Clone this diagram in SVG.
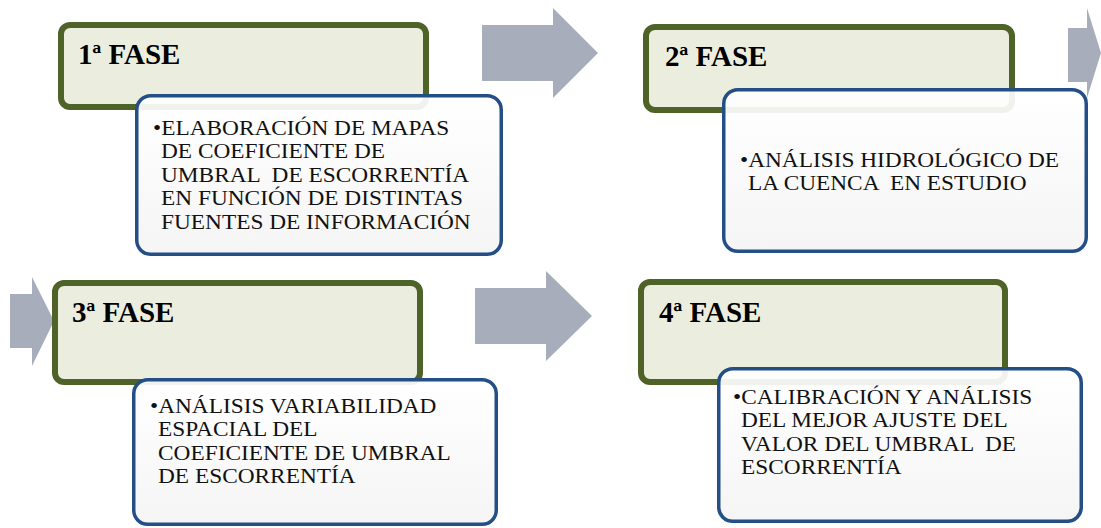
<svg xmlns="http://www.w3.org/2000/svg" width="1101" height="528" viewBox="0 0 1101 528">
<defs>
<linearGradient id="bg" x1="0" y1="0" x2="0" y2="1">
<stop offset="0" stop-color="#ffffff"/>
<stop offset="1" stop-color="#f4f4f4"/>
</linearGradient>
<style>
.head{fill:#ebeedf;stroke:#4f6228;stroke-width:6}
.body{fill:url(#bg);fill-opacity:0.92;stroke:#234f86;stroke-width:3.5}
.arrow{fill:#a7adbb}
.title{font-family:"Liberation Serif","Times New Roman",serif;font-weight:bold;font-size:29px;fill:#000}
.txt{font-family:"Liberation Serif","Times New Roman",serif;font-size:21.5px;fill:#111;white-space:pre}
</style>
</defs>
<rect width="1101" height="528" fill="#ffffff"/>
<g id="connectors">
<polygon class="arrow" points="482,25 553,25 553,8 598,53 553,98 553,81 482,81"/>
<polygon class="arrow" points="1068,28 1087,28 1087,8 1101,53 1087,98 1087,82 1068,82"/>
<polygon class="arrow" points="10,294 32,294 32,277 54,321 32,366 32,348 10,348"/>
<polygon class="arrow" points="475,288 546,288 546,271 592,316 546,361 546,344 475,344"/>
</g>
<g id="fase1">
<rect class="head" x="61" y="25" width="365" height="82" rx="9"/>
<text class="title" x="78" y="64">1ª FASE</text>
<rect class="body" x="136.75" y="95.75" width="364.5" height="158.5" rx="14"/>
<g transform="translate(153,0) scale(1.085,1)">
<text class="txt" x="0" y="135">•ELABORACIÓN DE MAPAS</text>
<text class="txt" x="7.4" y="158.5">DE COEFICIENTE DE</text>
<text class="txt" x="7.4" y="182">UMBRAL  DE ESCORRENTÍA</text>
<text class="txt" x="7.4" y="205.5">EN FUNCIÓN DE DISTINTAS</text>
<text class="txt" x="7.4" y="229">FUENTES DE INFORMACIÓN</text>
</g>
</g>
<g id="fase2">
<rect class="head" x="646" y="27" width="366" height="83" rx="9"/>
<text class="title" x="665" y="66">2ª FASE</text>
<rect class="body" x="723.75" y="89.75" width="362.5" height="161.5" rx="14"/>
<g transform="translate(740,0) scale(1.085,1)">
<text class="txt" x="0" y="167">•ANÁLISIS HIDROLÓGICO DE</text>
<text class="txt" x="7.4" y="190.5">LA CUENCA  EN ESTUDIO</text>
</g>
</g>
<g id="fase3">
<rect class="head" x="55" y="283" width="365" height="99" rx="9"/>
<text class="title" x="72" y="322">3ª FASE</text>
<rect class="body" x="133.75" y="379.75" width="362.5" height="144.5" rx="14"/>
<g transform="translate(150,0) scale(1.085,1)">
<text class="txt" x="0" y="413">•ANÁLISIS VARIABILIDAD</text>
<text class="txt" x="7.4" y="436.5">ESPACIAL DEL</text>
<text class="txt" x="7.4" y="460">COEFICIENTE DE UMBRAL</text>
<text class="txt" x="7.4" y="483.5">DE ESCORRENTÍA</text>
</g>
</g>
<g id="fase4">
<rect class="head" x="641" y="282" width="364" height="100" rx="9"/>
<text class="title" x="659" y="322">4ª FASE</text>
<rect class="body" x="718.75" y="368.75" width="362.5" height="152.5" rx="14"/>
<g transform="translate(733,0) scale(1.085,1)">
<text class="txt" x="0" y="404">•CALIBRACIÓN Y ANÁLISIS</text>
<text class="txt" x="7.4" y="427.5">DEL MEJOR AJUSTE DEL</text>
<text class="txt" x="7.4" y="451">VALOR DEL UMBRAL  DE</text>
<text class="txt" x="7.4" y="474.5">ESCORRENTÍA</text>
</g>
</g>
</svg>
